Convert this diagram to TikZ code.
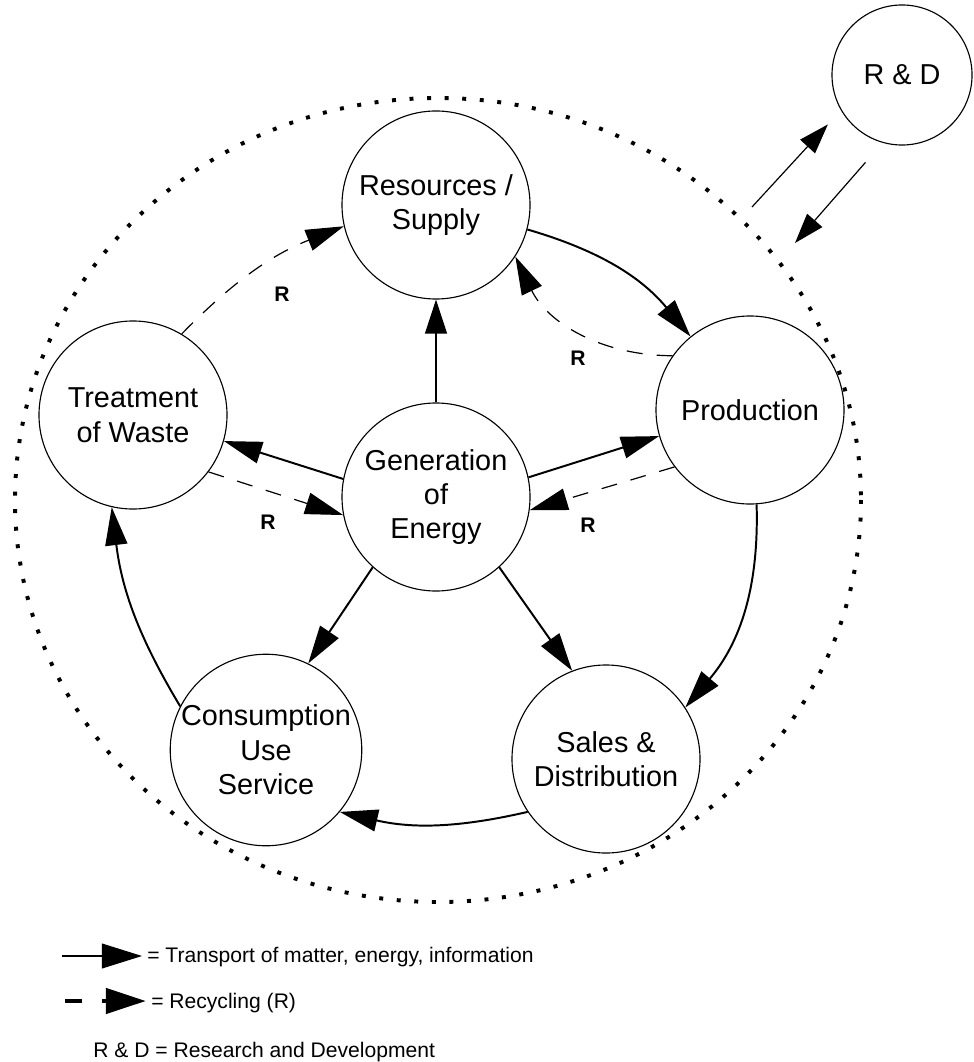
\documentclass[tikz,border=0pt]{standalone}
\usepackage{fontspec}
\setmainfont{Liberation Sans}
\usepackage{tikz}
\usetikzlibrary{arrows.meta}
\tikzstyle{vertex}=[circle,fill=white,draw,line width=0.8pt,minimum size=4.7cm,inner sep=0pt,align=center,font=\fontsize{20.5}{24.5}\selectfont]
\tikzstyle{rdvertex}=[vertex,minimum size=3.5cm]
\tikzstyle{flow}=[-{Triangle[length=0.95cm,width=0.55cm]},line width=1.4pt]
\tikzstyle{thinflow}=[-{Triangle[length=0.85cm,width=0.55cm]},line width=0.85pt]
\tikzstyle{recyc}=[-{Triangle[length=0.95cm,width=0.55cm]},line width=0.85pt,dash pattern=on 0.4cm off 0.35cm]
\tikzstyle{rlabel}=[inner sep=0pt,font=\fontsize{15}{18}\selectfont\bfseries]
\tikzstyle{legend}=[anchor=base west,inner sep=0pt,font=\fontsize{15}{18}\selectfont]

\begin{document}
\begin{tikzpicture}[x=0.025cm,y=-0.025cm]
  \useasboundingbox (0,0) rectangle (973,1062);

  % system boundary
  \draw[line width=2.8pt,dash pattern=on 2.8pt off 9.7pt] (438,500) ellipse [x radius=423,y radius=402];

  \foreach \x/\y/\name/\txt in {436/205/res/{Resources /\\Supply}, 750/410/prod/Production,
        133/415/treat/{Treatment\\of Waste}, 436/497/energy/{Generation\\of\\Energy},
        266/750/cons/{Consumption\\Use\\Service}, 606/759/sales/{Sales \&\\Distribution}}
    \node[vertex] (\name) at (\x,\y) {\txt};
  \node[rdvertex] (rd) at (902,75) {R \& D};

  % main cycle
  \draw[flow] (res.-15) to[bend left=17] (prod.129);
  \draw[flow] (prod.-86) to[bend left=21] (sales.33);
  \draw[flow] (sales.-146) to[bend left=13] (cons.-40);
  \draw[flow] (cons.153) to[bend left=12] (treat.-103);

  % energy
  \draw[thinflow] (energy.north) -- (res.south);
  \draw[flow] (energy.169) -- (treat.-16);
  \draw[flow] (energy.12) -- (prod.196);
  \draw[flow] (energy.228) -- (cons.64);
  \draw[flow] (energy.-48) -- (sales.111);

  % recycling
  \draw[recyc] (treat.59) to[bend left=12] (res.193);
  \draw[recyc] (prod.145) to[bend left=32] (res.-33);
  \draw[recyc] (treat.-37) -- (energy.191);
  \draw[recyc] (prod.217) -- (energy.-8);
  \node[rlabel] (r1) at (282,294) {R};
  \node[rlabel] (r2) at (578,358) {R};
  \node[rlabel] (r3) at (268,522) {R};
  \node[rlabel] (r4) at (588,525) {R};

  % R & D
  \coordinate (rdout) at (752,207);
  \coordinate (rdin) at (795,243);
  \draw[thinflow,-{Triangle[length=0.75cm,width=0.5cm]},shorten >=0.48cm] (rdout) -- (rd.210);
  \draw[thinflow,-{Triangle[length=0.75cm,width=0.5cm]},shorten <=0.65cm] (rd.-106) -- (rdin);

  % legend
  \coordinate (lga) at (62,956);
  \coordinate (lgb) at (142,956);
  \coordinate (lgc) at (65,1001);
  \coordinate (lgd) at (146,1001);
  \draw[line width=0.85pt,-{Triangle[length=1cm,width=0.62cm]}] (lga) -- (lgb);
  \draw[line width=3.5pt,dash pattern=on 0.425cm off 0.5cm,-{Triangle[length=1cm,width=0.62cm]}] (lgc) -- (lgd);
  \node[legend] (lgtrans) at (147,962) {= Transport of matter, energy, information};
  \node[legend] (lgrec) at (151,1008) {= Recycling (R)};
  \node[legend] (lgrd) at (93,1057) {R \& D = Research and Development};
\end{tikzpicture}
\end{document}
